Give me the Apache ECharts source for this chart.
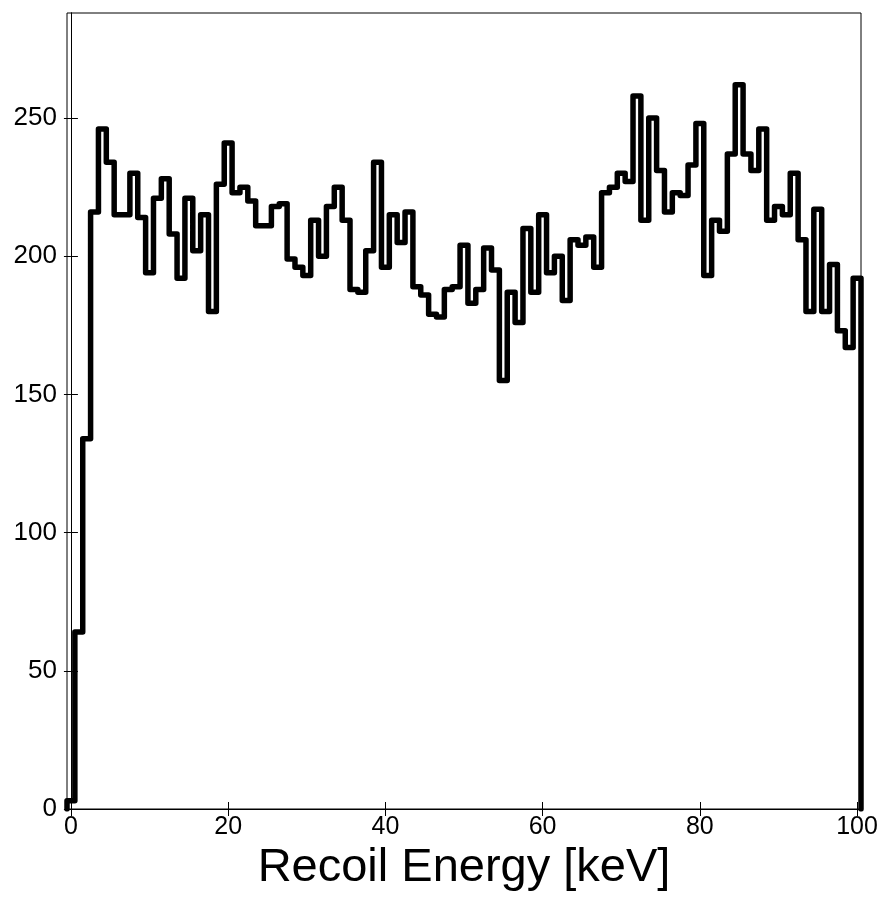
<!DOCTYPE html>
<html>
<head>
<meta charset="utf-8">
<style>
  html, body { margin: 0; padding: 0; background: #ffffff; }
  #chart { width: 885px; height: 904px; }
</style>
<script src="https://cdn.jsdelivr.net/npm/echarts@6/dist/echarts.min.js"></script>
</head>
<body>
<div id="chart"></div>
<script>
// Recoil energy histogram: 1 keV bins centred on integer energies 0..100 keV
const binWidthKeV = 1;
const firstBinCentreKeV = 0;
const counts = [
  3, 64, 134, 216, 246, 234, 215, 215, 230, 214,
  194, 221, 228, 208, 192, 221, 202, 215, 180, 226,
  241, 223, 225, 220, 211, 211, 218, 219, 199, 196,
  193, 213, 200, 218, 225, 213, 188, 187, 202, 234,
  196, 215, 205, 216, 189, 186, 179, 178, 188, 189,
  204, 183, 188, 203, 195, 155, 187, 176, 210, 187,
  215, 194, 200, 184, 206, 204, 207, 196, 223, 225,
  230, 227, 258, 213, 250, 231, 216, 223, 222, 233,
  248, 193, 213, 209, 237, 262, 237, 231, 246, 213,
  218, 215, 230, 206, 180, 217, 180, 197, 173, 167,
  192
];
const xTicks = [0, 20, 40, 60, 80, 100];
const yTicks = [0, 50, 100, 150, 200, 250];
const xRange = [-0.5, 100.5];
const yRange = [0, 288];

// Outline of the histogram as left-edge points, drawn with step:'end'
const outline = [];
outline.push([firstBinCentreKeV - binWidthKeV / 2, 0]);
counts.forEach(function (c, i) {
  const centre = firstBinCentreKeV + i * binWidthKeV;
  outline.push([centre - binWidthKeV / 2, c]);
});
const lastEdge = firstBinCentreKeV + (counts.length - 0.5) * binWidthKeV;
outline.push([lastEdge, 0]);

const FONT = '"Liberation Sans", Arial, Helvetica, sans-serif';
const axisLine = { show: true, lineStyle: { color: '#000', width: 1 } };

const chart = echarts.init(document.getElementById('chart'), null, { renderer: 'canvas' });
chart.setOption({
  backgroundColor: '#ffffff',
  animation: false,
  grid: {
    left: 67, right: 24, top: 13, bottom: 95,
    show: true, borderColor: '#000', borderWidth: 1, backgroundColor: 'transparent'
  },
  xAxis: [
    {
      type: 'value', min: xRange[0], max: xRange[1], position: 'bottom',
      name: 'Recoil Energy [keV]', nameLocation: 'middle', nameGap: 25,
      nameTextStyle: { fontFamily: FONT, fontSize: 47, color: '#000' },
      axisLine: axisLine,
      axisTick: { show: true, inside: true, length: 7, customValues: xTicks, lineStyle: { color: '#000' } },
      axisLabel: { show: true, customValues: xTicks, margin: 6, fontFamily: FONT, fontSize: 25, color: '#000' },
      splitLine: { show: false }
    },
    {
      type: 'value', min: xRange[0], max: xRange[1], position: 'top',
      axisLine: axisLine,
      axisTick: { show: true, inside: true, length: 7, customValues: xTicks, lineStyle: { color: '#000' } },
      axisLabel: { show: false },
      splitLine: { show: false }
    }
  ],
  yAxis: [
    {
      type: 'value', min: yRange[0], max: yRange[1], position: 'left',
      axisLine: axisLine,
      axisTick: { show: true, inside: true, length: 7, customValues: yTicks, lineStyle: { color: '#000' } },
      axisLabel: { show: true, customValues: yTicks, margin: 10, fontFamily: FONT, fontSize: 26, color: '#000' },
      splitLine: { show: false }
    },
    {
      type: 'value', min: yRange[0], max: yRange[1], position: 'right',
      axisLine: axisLine,
      axisTick: { show: true, inside: true, length: 7, customValues: yTicks, lineStyle: { color: '#000' } },
      axisLabel: { show: false },
      splitLine: { show: false }
    }
  ],
  series: [
    {
      type: 'line',
      xAxisIndex: 0, yAxisIndex: 0,
      step: 'end',
      data: outline,
      showSymbol: false,
      symbol: 'none',
      clip: true,
      lineStyle: { color: '#000', width: 5.5, join: 'round', cap: 'round' }
    }
  ]
});
</script>
</body>
</html>
